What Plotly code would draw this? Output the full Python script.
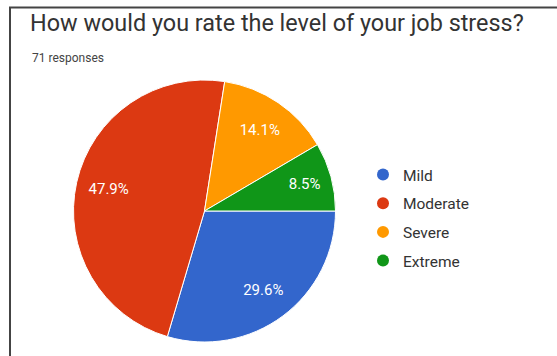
import plotly.graph_objects as go

categories = ["Mild", "Moderate", "Severe", "Extreme"]
counts = [21, 34, 10, 6]
colors = ["#3366CC", "#DC3912", "#FF9900", "#109618"]
title_text = "How would you rate the level of your job stress?"
subtitle_text = "71 responses"

W, H = 557, 356
cx, cy, r = 204.5, 211, 131
dom = dict(x=[(cx - r) / W, (cx + r) / W], y=[(H - cy - r) / H, (H - cy + r) / H])

fig = go.Figure()
fig.add_trace(go.Pie(
    labels=categories, values=counts, sort=False,
    direction="clockwise", rotation=90,
    marker=dict(colors=colors, line=dict(color="white", width=1)),
    textinfo="none", showlegend=False, domain=dom,
    hoverinfo="label+percent",
))
# transparent ring carrying the percentage labels (places them at ~3/4 radius)
fig.add_trace(go.Pie(
    labels=categories, values=counts, sort=False,
    direction="clockwise", rotation=90, hole=0.5,
    marker=dict(colors=["rgba(0,0,0,0)"] * len(categories), line=dict(width=0)),
    texttemplate="%{percent:.1%}",
    textposition="inside", insidetextorientation="horizontal",
    textfont=dict(color="white", size=15, family="Roboto"),
    showlegend=False, domain=dom, hoverinfo="skip",
))
for c, col in zip(categories, colors):
    fig.add_trace(go.Scatter(x=[None], y=[None], mode="markers", name=c, legendgroup=c,
                             marker=dict(color=col, size=16, symbol="circle")))

fig.update_layout(
    width=W, height=H, margin=dict(l=0, r=0, t=0, b=0),
    paper_bgcolor="white", plot_bgcolor="white",
    xaxis=dict(visible=False), yaxis=dict(visible=False),
    title=dict(text=title_text, x=30 / W, xanchor="left", y=1 - 23 / H, yanchor="middle",
               xref="paper", yref="paper",
               font=dict(family="Roboto", size=23.4, color="#333333")),
    legend=dict(x=363 / W, xanchor="left", y=1 - 158 / H, yanchor="top",
                font=dict(family="Roboto", size=15.5, color="#333333"),
                itemsizing="constant", tracegroupgap=5.5, bgcolor="rgba(0,0,0,0)"),
    annotations=[dict(text=subtitle_text, x=30 / W, y=1 - 58 / H, xref="paper", yref="paper",
                      xanchor="left", yanchor="middle", showarrow=False,
                      font=dict(family="Roboto", size=12, color="#444444"))],
    shapes=[
        dict(type="line", xref="paper", yref="paper", x0=9 / W, x1=1, y0=1 - 7.5 / H, y1=1 - 7.5 / H,
             line=dict(color="#444444", width=2)),
        dict(type="line", xref="paper", yref="paper", x0=10 / W, x1=10 / W, y0=0, y1=1 - 7 / H,
             line=dict(color="#444444", width=2)),
    ],
)
fig.write_html("out.html")
